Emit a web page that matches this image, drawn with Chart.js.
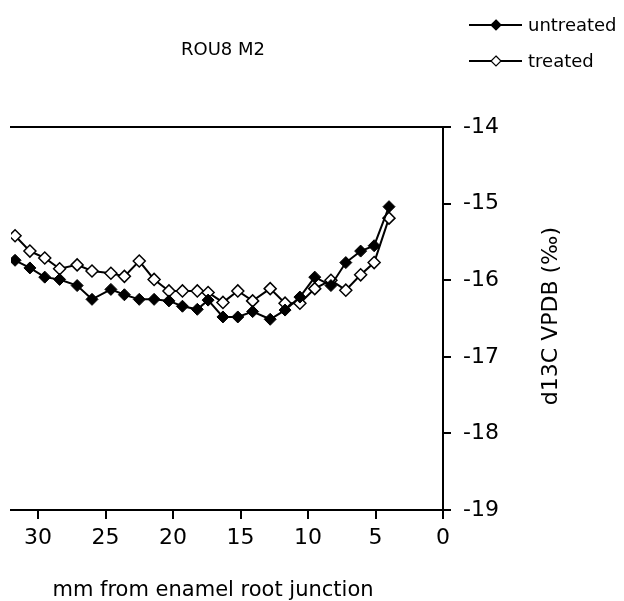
<!DOCTYPE html>
<html>
<head>
<meta charset="utf-8">
<script src="https://cdn.jsdelivr.net/npm/chart.js@4.4.1/dist/chart.umd.min.js"></script>
<style>
  html, body { margin: 0; padding: 0; background: #fff; }
  canvas { display: block; }
</style>
</head>
<body>
<canvas id="chart" width="624" height="601"></canvas>
<script>
// distance from enamel root junction (mm)
const distance = [31.7, 30.6, 29.5, 28.4, 27.1, 26.0, 24.6, 23.6, 22.5, 21.4, 20.3, 19.3, 18.2,
  17.4, 16.3, 15.2, 14.1, 12.8, 11.7, 10.6, 9.5, 8.3, 7.2, 6.1, 5.1, 4.0];
// d13C values
const untreated = [-15.74, -15.84, -15.96, -15.99, -16.07, -16.25, -16.12, -16.19, -16.25, -16.25, -16.27, -16.34, -16.38,
  -16.26, -16.48, -16.48, -16.41, -16.51, -16.39, -16.22, -15.96, -16.07, -15.77, -15.62, -15.55, -15.04];
const treated = [-15.42, -15.62, -15.71, -15.85, -15.80, -15.88, -15.91, -15.95, -15.75, -15.99, -16.14, -16.14, -16.14,
  -16.16, -16.29, -16.14, -16.27, -16.11, -16.30, -16.30, -16.11, -16.00, -16.13, -15.93, -15.77, -15.19];
const xTicks = [30, 25, 20, 15, 10, 5, 0];
const seriesNames = ["untreated", "treated"];

const FONT = "'DejaVu Sans', Verdana, sans-serif";

const toPoints = (vals) => vals.map((v, i) => ({ x: distance[i], y: v }));

// titles + legend drawn on top of the chart
const decorations = {
  id: "decorations",
  afterDraw(chart) {
    const ctx = chart.ctx;
    ctx.save();
    ctx.fillStyle = "#000";
    ctx.textBaseline = "middle";

    ctx.font = "18px " + FONT;
    ctx.textAlign = "center";
    ctx.fillText("ROU8 M2", 223, 50);

    ctx.font = "21px " + FONT;
    ctx.fillText("mm from enamel root junction", 213, 591);

    ctx.font = "22px " + FONT;
    ctx.save();
    ctx.translate(551, 316);
    ctx.rotate(-Math.PI / 2);
    ctx.fillText("d13C VPDB (\u2030)", 0, 0);
    ctx.restore();

    // legend
    ctx.font = "18px " + FONT;
    ctx.textAlign = "left";
    const rows = [25, 61];
    seriesNames.forEach((name, i) => {
      const y = rows[i];
      ctx.strokeStyle = "#000";
      ctx.lineWidth = 2;
      ctx.beginPath();
      ctx.moveTo(469, y);
      ctx.lineTo(522, y);
      ctx.stroke();
      ctx.beginPath();
      ctx.moveTo(496, y - 5);
      ctx.lineTo(501, y);
      ctx.lineTo(496, y + 5);
      ctx.lineTo(491, y);
      ctx.closePath();
      ctx.fillStyle = i === 0 ? "#000" : "#fff";
      ctx.fill();
      ctx.lineWidth = 1.2;
      ctx.stroke();
      ctx.fillStyle = "#000";
      ctx.fillText(name, 528, y + 1);
    });
    ctx.restore();
  }
};

new Chart(document.getElementById("chart"), {
  type: "line",
  data: {
    datasets: [
      {
        label: seriesNames[0],
        data: toPoints(untreated),
        borderColor: "#000",
        borderWidth: 2,
        pointStyle: "rectRot",
        pointRadius: 6,
        pointBackgroundColor: "#000",
        pointBorderColor: "#000",
        pointBorderWidth: 1,
        tension: 0
      },
      {
        label: seriesNames[1],
        data: toPoints(treated),
        borderColor: "#000",
        borderWidth: 2,
        pointStyle: "rectRot",
        pointRadius: 6,
        pointBackgroundColor: "#fff",
        pointBorderColor: "#000",
        pointBorderWidth: 1.5,
        tension: 0
      }
    ]
  },
  options: {
    responsive: false,
    animation: false,
    layout: { padding: { left: 11, top: 127, right: 0, bottom: 0 } },
    plugins: {
      legend: { display: false },
      title: { display: false },
      tooltip: { enabled: false }
    },
    scales: {
      x: {
        type: "linear",
        position: "bottom",
        reverse: true,
        min: 0,
        max: 32,
        afterBuildTicks: (s) => { s.ticks = xTicks.map(v => ({ value: v })); },
        afterFit: (s) => { s.height = 91; },
        ticks: { color: "#000", font: { family: FONT, size: 22 }, padding: 6, maxRotation: 0, autoSkip: false },
        grid: { drawOnChartArea: false, drawTicks: true, tickLength: 9, color: "#000", lineWidth: 2 },
        border: { display: true, color: "#000", width: 2 }
      },
      xTop: {
        type: "linear",
        position: "top",
        reverse: true,
        min: 0,
        max: 32,
        afterFit: (s) => { s.height = 0; },
        ticks: { display: false },
        grid: { display: false },
        border: { display: true, color: "#000", width: 2 }
      },
      y: {
        type: "linear",
        position: "right",
        min: -19,
        max: -14,
        afterFit: (s) => { s.width = 181; },
        ticks: { stepSize: 1, color: "#000", font: { family: FONT, size: 22 }, padding: 12 },
        grid: { drawOnChartArea: false, drawTicks: true, tickLength: 8, color: "#000", lineWidth: 2 },
        border: { display: true, color: "#000", width: 2 }
      }
    }
  },
  plugins: [decorations]
});
</script>
</body>
</html>
